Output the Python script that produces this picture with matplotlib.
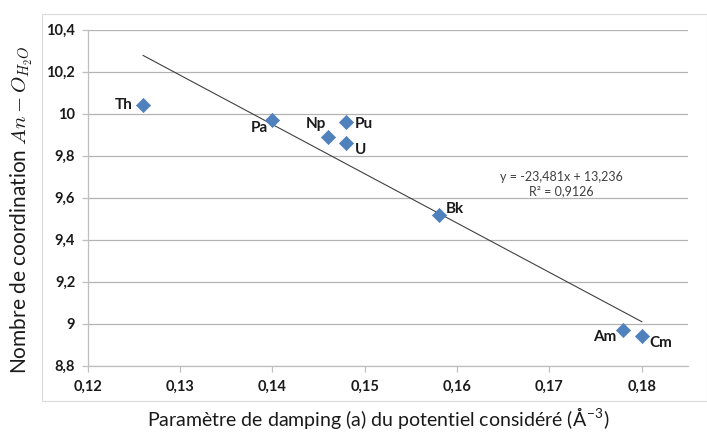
import matplotlib
matplotlib.use("Agg")
import matplotlib.pyplot as plt
from matplotlib.patches import Rectangle
import numpy as np

plt.rcParams['font.family'] = ['Lato', 'DejaVu Sans']
plt.rcParams['mathtext.fontset'] = 'cm'

# Data
elements = ["Th", "Pa", "U", "Np", "Pu", "Bk", "Am", "Cm"]
damping = [0.126, 0.140, 0.148, 0.146, 0.148, 0.158, 0.178, 0.180]
coordination = [10.04, 9.97, 9.86, 9.89, 9.96, 9.52, 8.97, 8.94]

# Linear trend (as reported on the chart)
slope = -23.481
intercept = 13.236
r2 = 0.9126

xticks = [0.12, 0.13, 0.14, 0.15, 0.16, 0.17, 0.18]
yticks = [8.8, 9.0, 9.2, 9.4, 9.6, 9.8, 10.0, 10.2, 10.4]
xtick_labels = ["0,12", "0,13", "0,14", "0,15", "0,16", "0,17", "0,18"]
ytick_labels = ["8,8", "9", "9,2", "9,4", "9,6", "9,8", "10", "10,2", "10,4"]

label_offsets = {
    "Th": (-10, 0, "right", "center"),
    "Pa": (-13, -8, "center", "center"),
    "Np": (-12, 13, "center", "center"),
    "Pu": (18, -2, "center", "center"),
    "U": (14, -7, "center", "center"),
    "Bk": (16, 6, "center", "center"),
    "Am": (-19, -7, "center", "center"),
    "Cm": (19, -7, "center", "center"),
}

W, H = 707, 432
fig = plt.figure(figsize=(W / 100, H / 100), dpi=100)
ax = fig.add_axes([87.7 / W, 1 - 365.7 / H, (688 - 87.7) / W, (365.7 - 29.7) / H])

# outer chart border
fig.patches.append(Rectangle((42 / W, 1 - 401 / H), (707 - 42) / W, (401 - 14) / H,
                             transform=fig.transFigure, fill=False,
                             edgecolor="#d9d9d9", linewidth=0.8))

ax.set_xlim(0.12, 0.185)
ax.set_ylim(8.8, 10.4)
ax.set_yticks(yticks)
ax.set_yticklabels(ytick_labels)
ax.set_xticks(xticks)
ax.set_xticklabels(xtick_labels)
ax.grid(axis="y", color="#b3b3b3", linewidth=0.9)
ax.set_axisbelow(True)
for s in ["top", "right"]:
    ax.spines[s].set_visible(False)
for s in ["left", "bottom"]:
    ax.spines[s].set_color("#bfbfbf")
    ax.spines[s].set_linewidth(0.9)
ax.tick_params(axis="both", direction="out", length=4, width=0.9, color="#bfbfbf",
               labelsize=10.5, labelcolor="#1a1a1a")
ax.tick_params(axis="y", pad=5)
ax.tick_params(axis="x", pad=6)
for lab in ax.get_xticklabels() + ax.get_yticklabels():
    lab.set_fontweight("bold")

# trend line
xl = np.array([min(damping), max(damping)])
ax.plot(xl, slope * xl + intercept, color="#404040", linewidth=0.8, zorder=2)

ax.scatter(damping, coordination, marker="D", s=52, color="#4f81bd",
           edgecolors="#4f81bd", linewidths=0.5, zorder=3)

for el, x, y in zip(elements, damping, coordination):
    dx, dy, ha, va = label_offsets[el]
    ax.annotate(el, (x, y), xytext=(dx * 0.72, dy * 0.72), textcoords="offset points",
                ha=ha, va=va, fontsize=11, fontweight="bold", color="#1a1a1a")

eq = "y = -23,481x + 13,236\nR² = 0,9126"
ax.text(0.1713, 9.665, eq, ha="center", va="center", fontsize=9, color="#404040",
        linespacing=1.2)

fig.text(378 / W, 1 - 418 / H,
         "Paramètre de damping (a) du potentiel considéré (Å$^{\\mathregular{-3}}$)",
         ha="center", va="center", fontsize=14, color="#1a1a1a")
fig.text(22 / W, 1 - 210 / H,
         "Nombre de coordination $An - O_{H_2O}$",
         ha="center", va="center", rotation=90, fontsize=15, color="#1a1a1a")

fig.savefig("out.png", dpi=100)
